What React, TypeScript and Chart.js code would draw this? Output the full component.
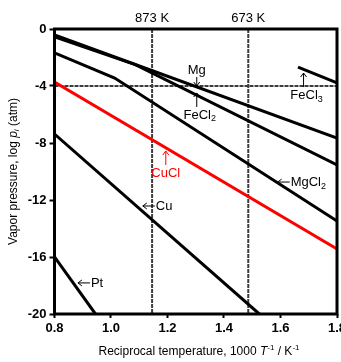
import React, { useEffect, useRef } from "react";
import { Chart, registerables } from "chart.js";

Chart.register(...registerables);

// Axis ranges and ticks
const xMin = 0.8;
const xMax = 1.8;
const yMin = -20;
const yMax = 0;
const xTicks = [0.8, 1.0, 1.2, 1.4, 1.6, 1.8];
const yTicks = [0, -4, -8, -12, -16, -20];

// Reference lines
const refTempsK = [873, 673];
const refLogP = -4;

// Series (x = 1000/T, y = log p)
const mgX = [0.8, 1.8];
const mgY = [-0.42, -7.65];
const fecl2X = [0.8, 1.086, 1.8];
const fecl2Y = [-0.55, -2.5, -9.54];
const mgcl2X = [0.8, 1.013, 1.8];
const mgcl2Y = [-1.68, -3.44, -13.47];
const fecl3X = [1.662, 1.8];
const fecl3Y = [-2.67, -3.78];
const cuclX = [0.8, 1.8];
const cuclY = [-3.72, -15.44];
const cuX = [0.8, 1.525];
const cuY = [-7.37, -20];
const ptX = [0.8, 0.945];
const ptY = [-16.0, -20];

// Labels with arrows (tip in data coords)
const labelNames = ["Mg", "FeCl", "FeCl", "CuCl", "MgCl", "Cu", "Pt"];
const labelSubs = ["", "2", "3", "", "2", "", ""];
const labelX = [1.3035, 1.3035, 1.6816, 1.194, 1.59, 1.1127, 0.883];
const labelY = [-4.0, -4.49, -3.09, -8.56, -10.74, -12.42, -17.82];
const labelDir = ["down", "up", "up", "up", "left", "left", "left"];
const labelColor = ["#000", "#000", "#000", "#ff0000", "#000", "#000", "#000"];

const FONT = "'Liberation Sans', Arial, sans-serif";

const zip = (xs: number[], ys: number[]) => xs.map((x, i) => ({ x, y: ys[i] }));

type Seg = { t: string; italic?: boolean; size: number; dy?: number };

function richWidth(ctx: CanvasRenderingContext2D, segs: Seg[]) {
  let w = 0;
  for (const s of segs) {
    ctx.font = `${s.italic ? "italic " : ""}${s.size}px ${FONT}`;
    w += ctx.measureText(s.t).width;
  }
  return w;
}

function drawRich(ctx: CanvasRenderingContext2D, segs: Seg[], x: number, y: number, align: "left" | "center") {
  const w = richWidth(ctx, segs);
  let cx = align === "center" ? x - w / 2 : x;
  ctx.textAlign = "left";
  ctx.textBaseline = "middle";
  for (const s of segs) {
    ctx.font = `${s.italic ? "italic " : ""}${s.size}px ${FONT}`;
    ctx.fillText(s.t, cx, y + (s.dy || 0));
    cx += ctx.measureText(s.t).width;
  }
}

const overlay = {
  id: "overlay",
  afterDatasetsDraw(chart: any) {
    const { ctx, chartArea: a, scales } = chart;
    const xs = scales.x;
    const ys = scales.y;
    ctx.save();
    // frame
    ctx.strokeStyle = "#000";
    ctx.lineWidth = 3;
    ctx.strokeRect(a.left, a.top, a.right - a.left, a.bottom - a.top);

    // temperature labels
    ctx.fillStyle = "#000";
    ctx.font = `13px ${FONT}`;
    ctx.textAlign = "center";
    ctx.textBaseline = "middle";
    refTempsK.forEach((T) => {
      ctx.fillText(`${T} K`, xs.getPixelForValue(1000 / T), a.top - 11);
    });

    // annotations
    labelNames.forEach((name, i) => {
      const px = xs.getPixelForValue(labelX[i]);
      const py = ys.getPixelForValue(labelY[i]);
      const col = labelColor[i];
      ctx.strokeStyle = col;
      ctx.fillStyle = col;
      ctx.lineWidth = 1;
      const segs: Seg[] = [{ t: name, size: 13 }];
      if (labelSubs[i]) segs.push({ t: labelSubs[i], size: 9, dy: 4 });
      ctx.beginPath();
      if (labelDir[i] === "down") {
        ctx.moveTo(px, py - 9);
        ctx.lineTo(px, py);
        ctx.moveTo(px - 3, py - 4);
        ctx.lineTo(px, py);
        ctx.lineTo(px + 3, py - 4);
        ctx.stroke();
        drawRich(ctx, segs, px, py - 16, "center");
      } else if (labelDir[i] === "up") {
        ctx.moveTo(px, py + 14);
        ctx.lineTo(px, py);
        ctx.moveTo(px - 3, py + 4);
        ctx.lineTo(px, py);
        ctx.lineTo(px + 3, py + 4);
        ctx.stroke();
        drawRich(ctx, segs, px + (labelSubs[i] ? 3 : 0), py + 22, "center");
      } else {
        ctx.moveTo(px + 12, py);
        ctx.lineTo(px, py);
        ctx.moveTo(px + 4, py - 3);
        ctx.lineTo(px, py);
        ctx.lineTo(px + 4, py + 3);
        ctx.stroke();
        drawRich(ctx, segs, px + 13, py, "left");
      }
    });

    // axis titles
    ctx.fillStyle = "#000";
    const xt: Seg[] = [
      { t: "Reciprocal temperature, 1000 ", size: 12 },
      { t: "T", size: 12, italic: true },
      { t: "-1", size: 8, dy: -4 },
      { t: " / K", size: 12 },
      { t: "-1", size: 8, dy: -4 },
    ];
    drawRich(ctx, xt, 199, 352, "center");

    const yt: Seg[] = [
      { t: "Vapor pressure, log ", size: 12 },
      { t: "p", size: 12, italic: true },
      { t: "i", size: 8, italic: true, dy: 3 },
      { t: " (atm)", size: 12 },
    ];
    ctx.translate(14, (a.top + a.bottom) / 2);
    ctx.rotate(-Math.PI / 2);
    drawRich(ctx, yt, 0, 0, "center");
    ctx.restore();
  },
};

export default function App() {
  const ref = useRef<HTMLCanvasElement | null>(null);
  useEffect(() => {
    document.body.style.margin = "0";
    const canvas = ref.current!;
    const black = (data: { x: number; y: number }[]) => ({
      data,
      borderColor: "#000",
      borderWidth: 3,
      pointRadius: 0,
      tension: 0,
      fill: false,
    });
    const refStyle = (data: { x: number; y: number }[]) => ({
      data,
      borderColor: "#3c3c3c",
      borderWidth: 2,
      borderDash: [4, 1],
      pointRadius: 0,
      fill: false,
    });
    const chart = new Chart(canvas, {
      type: "line",
      data: {
        datasets: [
          black(zip(mgX, mgY)),
          black(zip(fecl2X, fecl2Y)),
          black(zip(mgcl2X, mgcl2Y)),
          black(zip(fecl3X, fecl3Y)),
          { ...black(zip(cuclX, cuclY)), borderColor: "#ff0000" },
          black(zip(cuX, cuY)),
          black(zip(ptX, ptY)),
          ...refTempsK.map((T) =>
            refStyle([
              { x: 1000 / T, y: yMax },
              { x: 1000 / T, y: yMin },
            ])
          ),
          refStyle([
            { x: xMin, y: refLogP },
            { x: xMax, y: refLogP },
          ]),
        ] as any,
      },
      options: {
        responsive: false,
        animation: false,
        layout: { padding: { top: 29, right: 4, left: 0, bottom: 0 } },
        plugins: { legend: { display: false }, tooltip: { enabled: false } },
        scales: {
          x: {
            type: "linear",
            min: xMin,
            max: xMax,
            afterBuildTicks: (s: any) => {
              s.ticks = xTicks.map((v) => ({ value: v }));
            },
            afterFit: (s: any) => {
              s.height = 48;
              s.paddingLeft = 0;
              s.paddingRight = 0;
            },
            border: { display: false },
            grid: {
              drawOnChartArea: false,
              drawTicks: true,
              tickLength: 4,
              tickColor: "#000",
              tickWidth: 2,
            },
            ticks: {
              color: "#000",
              padding: 3,
              maxRotation: 0,
              autoSkip: false,
              font: { family: FONT, size: 13, weight: "bold" },
              callback: (v: any) => Number(v).toFixed(1),
            },
          },
          y: {
            type: "linear",
            min: yMin,
            max: yMax,
            afterBuildTicks: (s: any) => {
              s.ticks = yTicks.map((v) => ({ value: v }));
            },
            afterFit: (s: any) => {
              s.width = 54.5;
              s.paddingTop = 0;
              s.paddingBottom = 0;
            },
            border: { display: false },
            grid: {
              drawOnChartArea: false,
              drawTicks: true,
              tickLength: 5,
              tickColor: "#000",
              tickWidth: 2,
            },
            ticks: {
              color: "#000",
              padding: 3,
              autoSkip: false,
              font: { family: FONT, size: 13, weight: "bold" },
              callback: (v: any) => String(v),
            },
          },
        },
      },
      plugins: [overlay],
    });
    return () => chart.destroy();
  }, []);
  return <canvas ref={ref} width={341} height={362} style={{ display: "block" }} />;
}
